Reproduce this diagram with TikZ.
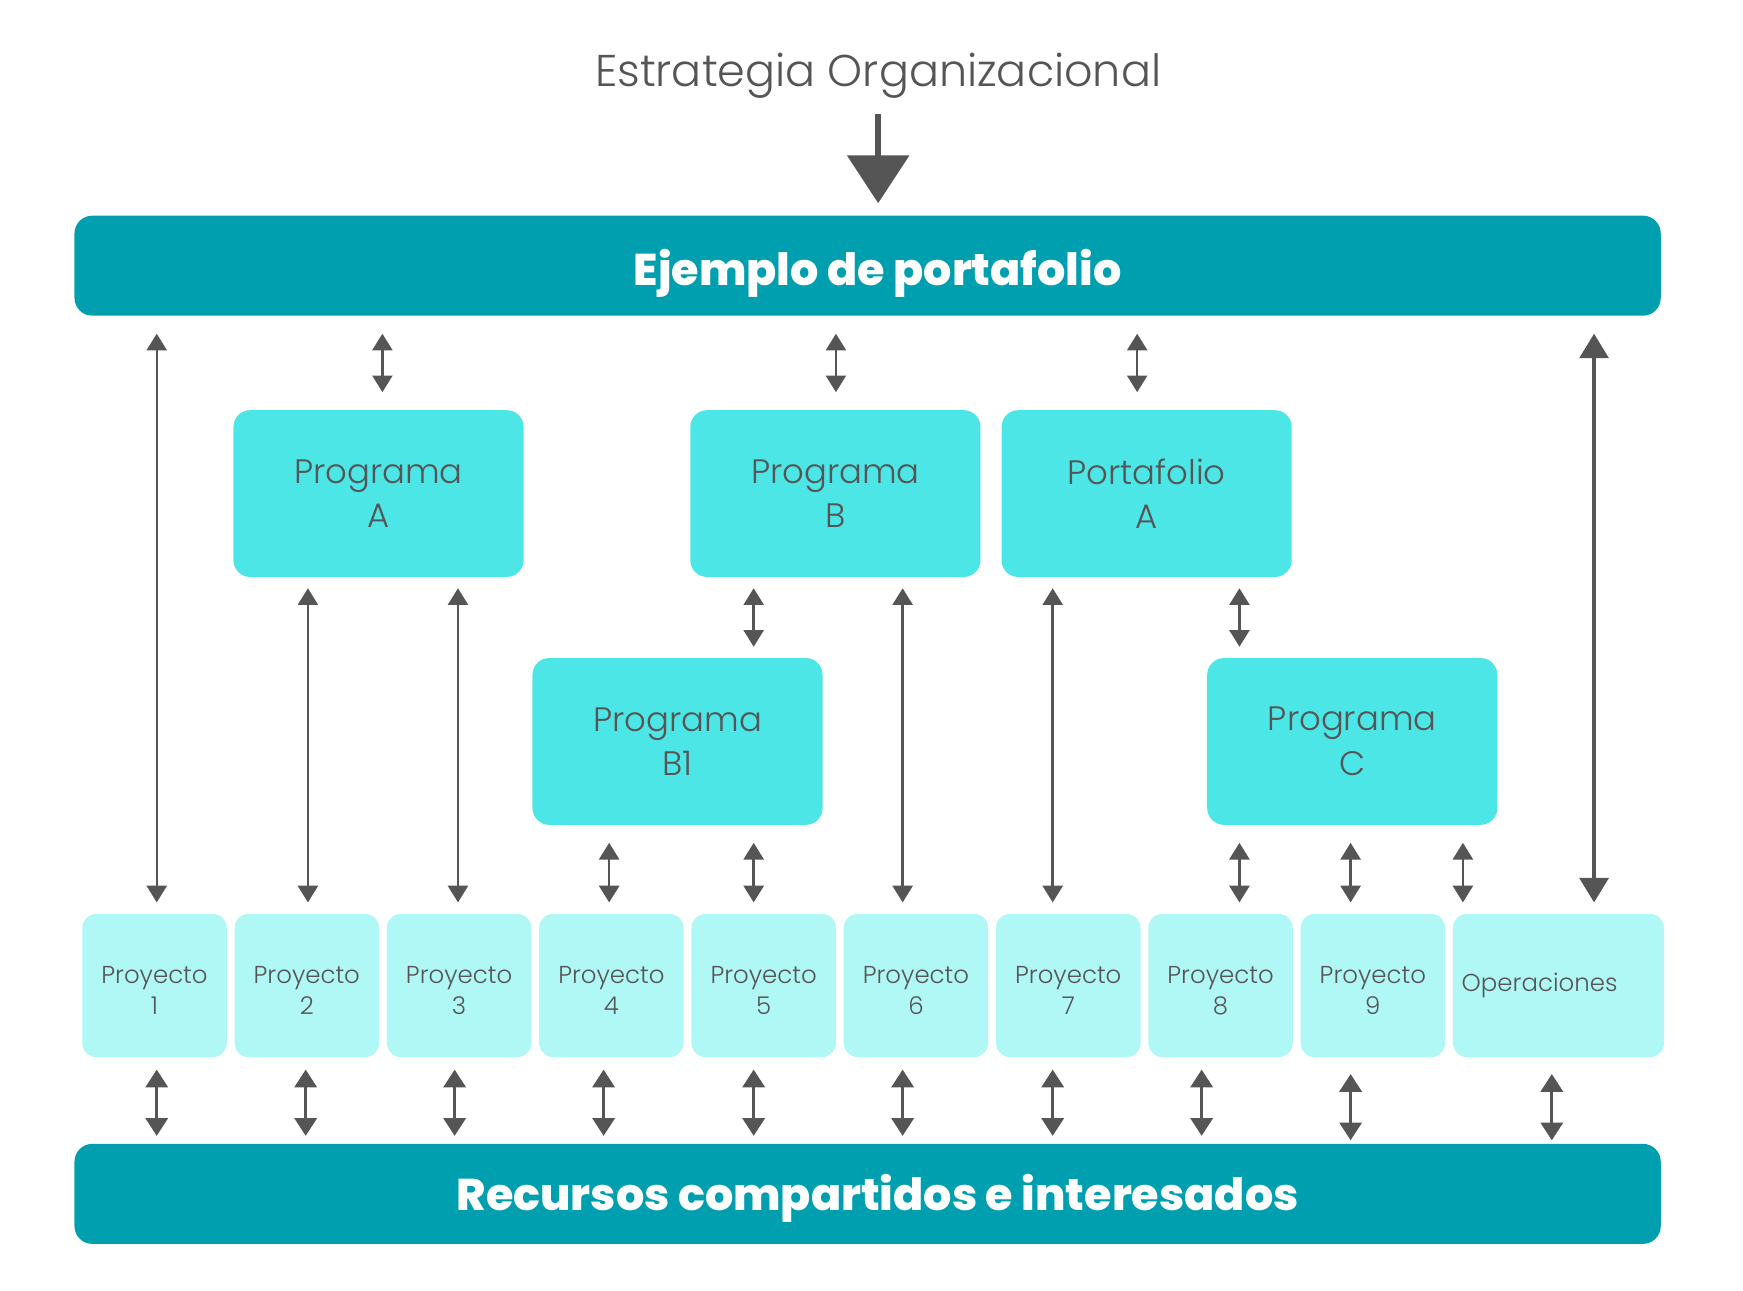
\documentclass[tikz,border=0pt]{standalone}
\usepackage{fontspec}
\setmainfont{Poppins}[UprightFont=* Light, BoldFont=* ExtraBold]
\usetikzlibrary{arrows.meta}
\definecolor{bardark}{RGB}{0,159,175}
\definecolor{progcol}{RGB}{77,230,230}
\definecolor{projcol}{RGB}{176,248,245}
\definecolor{txtgray}{RGB}{85,85,85}
\definecolor{arrowgray}{RGB}{85,85,85}
\begin{document}
\begin{tikzpicture}[x=1pt,y=-1pt,
  bar/.style={fill=bardark, rounded corners=16pt, minimum width=1427pt, minimum height=90pt, inner sep=0pt},
  bartext/.style={text=white, font=\bfseries\fontsize{40}{44}\selectfont, inner sep=0pt, anchor=base},
  progbox/.style={fill=progcol, rounded corners=15pt, minimum width=261pt, minimum height=150pt, align=center, text=txtgray, font=\fontsize{30.5}{40}\selectfont, inner sep=0pt},
  projbox/.style={fill=projcol, rounded corners=13pt, minimum width=130pt, minimum height=129pt, align=center, text=txtgray, font=\fontsize{22}{28}\selectfont, inner sep=0pt},
  arr/.style={draw=arrowgray, line width=2.2pt, {Triangle[width=18pt,length=15pt]}-{Triangle[width=18pt,length=15pt]}},
  arrbot/.style={draw=arrowgray, line width=2.6pt, {Triangle[width=20pt,length=16pt]}-{Triangle[width=20pt,length=16pt]}},
  arrbig/.style={draw=arrowgray, line width=3pt, {Triangle[width=26pt,length=22pt]}-{Triangle[width=26pt,length=22pt]}},
  title/.style={text=txtgray, font=\fontsize{40}{48}\selectfont, inner sep=0pt, anchor=base}
]
\useasboundingbox (0,0) rectangle (1568,1161);

% title and big arrow
\node[title] (tit) at (790,77.5) {Estrategia Organizacional};
\node[bar] (top) at (780.5,239) {};
\node[bartext] (toptxt) at (789.5,256.5) {Ejemplo de portafolio};
\node[bar] (bot) at (780.5,1074) {};
\node[bartext] (bottxt) at (789.5,1089) {Recursos compartidos e interesados};
\coordinate (astart) at (790,103);
\draw[draw=arrowgray, line width=5pt, -{Triangle[width=55pt,length=43pt]}, shorten >=11pt] (astart) -- (top.north -| astart) ;

% program boxes
\node[progbox] (pa) at (340.5,444) {Programa\\A};
\node[progbox] (pb) at (751.5,444) {Programa\\B};
\node[progbox] (pfa) at (1031.5,444) {Portafolio\\A};
\node[progbox] (pb1) at (609.5,667) {Programa\\B1};
\node[progbox] (pc) at (1216.5,667) {Programa\\C};

% projects
\node[projbox] (p1) at (139,886.5) {\rule{0pt}{25pt}Proyecto\\1};
\node[projbox] (p2) at (276,886.5) {\rule{0pt}{25pt}Proyecto\\2};
\node[projbox] (p3) at (413,886.5) {\rule{0pt}{25pt}Proyecto\\3};
\node[projbox] (p4) at (550,886.5) {\rule{0pt}{25pt}Proyecto\\4};
\node[projbox] (p5) at (687,886.5) {\rule{0pt}{25pt}Proyecto\\5};
\node[projbox] (p6) at (824,886.5) {\rule{0pt}{25pt}Proyecto\\6};
\node[projbox] (p7) at (961,886.5) {\rule{0pt}{25pt}Proyecto\\7};
\node[projbox] (p8) at (1098,886.5) {\rule{0pt}{25pt}Proyecto\\8};
\node[projbox] (p9) at (1235,886.5) {\rule{0pt}{25pt}Proyecto\\9};
\node[projbox, minimum width=190pt] (op) at (1402,886.5) {\hspace*{-34pt}Operaciones};

% x positions of connectors
\foreach \xx in {141,344,752,1023,1434,277,412,678,812,947,1115,548,1215,1316,275,409,543,1081,1396}
  \coordinate (x\xx) at (\xx,0);

% portfolio bar to level 1
\draw[arr, shorten <=16pt, shorten >=10pt] (top.south -| x141) -- (p1.north -| x141);
\draw[arr, shorten <=16pt, shorten >=16pt] (top.south -| x344) -- (pa.north -| x344);
\draw[arr, shorten <=16pt, shorten >=16pt] (top.south -| x752) -- (pb.north -| x752);
\draw[arr, shorten <=16pt, shorten >=16pt] (top.south -| x1023) -- (pfa.north -| x1023);
\draw[arrbig, shorten <=16pt, shorten >=10pt] (top.south -| x1434) -- (op.north -| x1434);

% level 2
\draw[arr, shorten <=10pt, shorten >=10pt] (pa.south -| x277) -- (p2.north -| x277);
\draw[arr, shorten <=10pt, shorten >=10pt] (pa.south -| x412) -- (p3.north -| x412);
\draw[arr, shorten <=10pt, shorten >=10pt] (pb.south -| x678) -- (pb1.north -| x678);
\draw[arr, shorten <=10pt, shorten >=10pt] (pb.south -| x812) -- (p6.north -| x812);
\draw[arr, shorten <=10pt, shorten >=10pt] (pfa.south -| x947) -- (p7.north -| x947);
\draw[arr, shorten <=10pt, shorten >=10pt] (pfa.south -| x1115) -- (pc.north -| x1115);

% level 3
\draw[arr, shorten <=16pt, shorten >=10pt] (pb1.south -| x548) -- (p4.north -| x548);
\draw[arr, shorten <=16pt, shorten >=10pt] (pb1.south -| x678) -- (p5.north -| x678);
\draw[arr, shorten <=16pt, shorten >=10pt] (pc.south -| x1115) -- (p8.north -| x1115);
\draw[arr, shorten <=16pt, shorten >=10pt] (pc.south -| x1215) -- (p9.north -| x1215);
\draw[arr, shorten <=16pt, shorten >=10pt] (pc.south -| x1316) -- (op.north -| x1316);

% projects to resources bar
\draw[arrbot, shorten <=11pt, shorten >=7pt] (p1.south -| x141) -- (bot.north -| x141);
\draw[arrbot, shorten <=11pt, shorten >=7pt] (p2.south -| x275) -- (bot.north -| x275);
\draw[arrbot, shorten <=11pt, shorten >=7pt] (p3.south -| x409) -- (bot.north -| x409);
\draw[arrbot, shorten <=11pt, shorten >=7pt] (p4.south -| x543) -- (bot.north -| x543);
\draw[arrbot, shorten <=11pt, shorten >=7pt] (p5.south -| x678) -- (bot.north -| x678);
\draw[arrbot, shorten <=11pt, shorten >=7pt] (p6.south -| x812) -- (bot.north -| x812);
\draw[arrbot, shorten <=11pt, shorten >=7pt] (p7.south -| x947) -- (bot.north -| x947);
\draw[arrbot, shorten <=11pt, shorten >=7pt] (p8.south -| x1081) -- (bot.north -| x1081);
\draw[arrbot, shorten <=15pt, shorten >=3pt] (p9.south -| x1215) -- (bot.north -| x1215);
\draw[arrbot, shorten <=15pt, shorten >=3pt] (op.south -| x1396) -- (bot.north -| x1396);
\end{tikzpicture}
\end{document}
